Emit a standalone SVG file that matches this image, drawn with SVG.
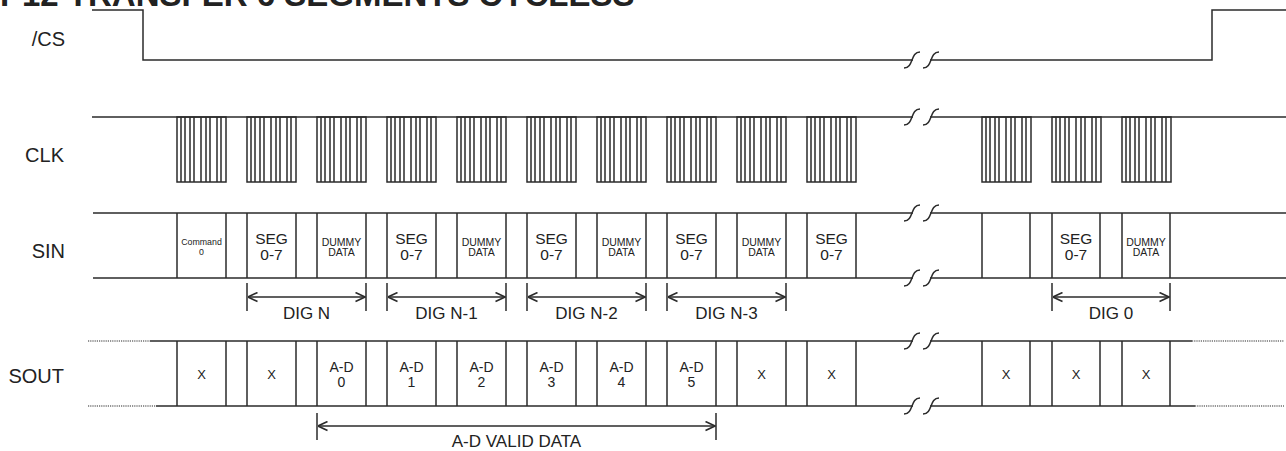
<svg xmlns="http://www.w3.org/2000/svg" xmlns:xlink="http://www.w3.org/1999/xlink" width="1286" height="451" viewBox="0 0 1286 451">
<style>
.ln{fill:none;stroke:#2b2b2b;stroke-width:1.5}
.dot{fill:none;stroke:#2b2b2b;stroke-width:1.2;stroke-dasharray:1.2 1}
.lbl{font-family:"Liberation Sans",Arial,sans-serif;font-size:20px;fill:#222}
.t{font-family:"Liberation Sans",Arial,sans-serif;fill:#222;text-anchor:middle}
.seg{font-size:15.5px}
.dum{font-size:10.5px}
.cmd{font-size:8.8px}
.x{font-size:13px}
.ad{font-size:14px}
.dim{font-size:17px}
.title{font-family:"Liberation Sans",Arial,sans-serif;font-size:33px;font-weight:bold;fill:#222}
</style>
<defs>
<marker id="ah" viewBox="0 0 11 11" refX="10.5" refY="5.5" markerWidth="11" markerHeight="11" markerUnits="userSpaceOnUse" orient="auto-start-reverse">
<path d="M1,1 L10.5,5.5 L1,10" fill="none" stroke="#2b2b2b" stroke-width="1.6"/>
</marker>
<g id="burst">
<rect x="0" y="0" width="49" height="65" class="ln"/>
<path class="ln" d="M4,0V65M8,0V65M13,0V65M17,0V65M24,0V65M29,0V65M33,0V65M40,0V65M44,0V65"/>
</g>
<path id="brk" class="ln" d="M-8,8 C2,8 -2,-8 8,-8 M11,8 C21,8 17,-8 27,-8"/>
</defs>
<rect width="1286" height="451" fill="#fff"/>
<text class="title" x="0" y="6">P12 TRANSFER 6 SEGMENTS CYCLESS</text>

<g id="labels">
<text class="lbl" x="65" y="46" text-anchor="end">/CS</text>
<text class="lbl" x="64" y="162" text-anchor="end">CLK</text>
<text class="lbl" x="65" y="258" text-anchor="end">SIN</text>
<text class="lbl" x="64" y="383" text-anchor="end">SOUT</text>
</g>

<g id="cs">
<path class="ln" d="M92,10H143V60H913M930,60H1212V10H1286"/>
<use xlink:href="#brk" x="912" y="60"/>
</g>

<g id="clk">
<path class="ln" d="M92,117H913M930,117H1286"/>
<use xlink:href="#brk" x="912" y="117"/>
<use xlink:href="#burst" x="177" y="117"/>
<use xlink:href="#burst" x="247" y="117"/>
<use xlink:href="#burst" x="317" y="117"/>
<use xlink:href="#burst" x="387" y="117"/>
<use xlink:href="#burst" x="457" y="117"/>
<use xlink:href="#burst" x="527" y="117"/>
<use xlink:href="#burst" x="597" y="117"/>
<use xlink:href="#burst" x="667" y="117"/>
<use xlink:href="#burst" x="737" y="117"/>
<use xlink:href="#burst" x="807" y="117"/>
<use xlink:href="#burst" x="982" y="117"/>
<use xlink:href="#burst" x="1052" y="117"/>
<use xlink:href="#burst" x="1122" y="117"/>
</g>

<g id="sin">
<path class="ln" d="M93,213H913M930,213H1286M93,278H913M930,278H1286"/>
<use xlink:href="#brk" x="912" y="213"/>
<use xlink:href="#brk" x="912" y="278"/>
<path class="ln" d="M177,213V278M226,213V278M247,213V278M296,213V278M317,213V278M366,213V278M387,213V278M436,213V278M457,213V278M506,213V278M527,213V278M576,213V278M597,213V278M646,213V278M667,213V278M716,213V278M737,213V278M786,213V278M807,213V278M856,213V278M982,213V278M1030,213V278M1052,213V278M1100,213V278M1122,213V278M1170,213V278"/>
<text class="t cmd" x="201.5" y="245">Command</text>
<text class="t cmd" x="201.5" y="255">0</text>
<g class="t seg">
<text x="271.5" y="244">SEG</text><text x="271.5" y="260">0-7</text>
<text x="411.5" y="244">SEG</text><text x="411.5" y="260">0-7</text>
<text x="551.5" y="244">SEG</text><text x="551.5" y="260">0-7</text>
<text x="691.5" y="244">SEG</text><text x="691.5" y="260">0-7</text>
<text x="831.5" y="244">SEG</text><text x="831.5" y="260">0-7</text>
<text x="1076" y="244">SEG</text><text x="1076" y="260">0-7</text>
</g>
<g class="t dum">
<text x="341.5" y="246">DUMMY</text><text x="341.5" y="256">DATA</text>
<text x="481.5" y="246">DUMMY</text><text x="481.5" y="256">DATA</text>
<text x="621.5" y="246">DUMMY</text><text x="621.5" y="256">DATA</text>
<text x="761.5" y="246">DUMMY</text><text x="761.5" y="256">DATA</text>
<text x="1146" y="246">DUMMY</text><text x="1146" y="256">DATA</text>
</g>
</g>

<g id="sout">
<path class="dot" d="M88,341H150M88,406H156M1192,341H1284M1195,406H1284"/>
<path class="ln" d="M150,341H913M930,341H1192M156,406H913M930,406H1195"/>
<use xlink:href="#brk" x="912" y="341"/>
<use xlink:href="#brk" x="912" y="406"/>
<path class="ln" d="M177,341V406M226,341V406M247,341V406M296,341V406M317,341V406M366,341V406M387,341V406M436,341V406M457,341V406M506,341V406M527,341V406M576,341V406M597,341V406M646,341V406M667,341V406M716,341V406M737,341V406M786,341V406M807,341V406M856,341V406M982,341V406M1030,341V406M1052,341V406M1100,341V406M1122,341V406M1170,341V406"/>
<g class="t x">
<text x="201.5" y="379">X</text>
<text x="271.5" y="379">X</text>
<text x="761.5" y="379">X</text>
<text x="831.5" y="379">X</text>
<text x="1006" y="379">X</text>
<text x="1076" y="379">X</text>
<text x="1146" y="379">X</text>
</g>
<g class="t ad">
<text x="341.5" y="372">A-D</text><text x="341.5" y="387">0</text>
<text x="411.5" y="372">A-D</text><text x="411.5" y="387">1</text>
<text x="481.5" y="372">A-D</text><text x="481.5" y="387">2</text>
<text x="551.5" y="372">A-D</text><text x="551.5" y="387">3</text>
<text x="621.5" y="372">A-D</text><text x="621.5" y="387">4</text>
<text x="691.5" y="372">A-D</text><text x="691.5" y="387">5</text>
</g>
</g>

<g id="dims">
<path class="ln" d="M247,283V311M366,283V311M387,283V311M506,283V311M527,283V311M646,283V311M667,283V311M786,283V311M1052,283V311M1170,283V311M317,413V440M716,413V440"/>
<path class="ln" marker-start="url(#ah)" marker-end="url(#ah)" d="M248,297H365"/>
<path class="ln" marker-start="url(#ah)" marker-end="url(#ah)" d="M388,297H505"/>
<path class="ln" marker-start="url(#ah)" marker-end="url(#ah)" d="M528,297H645"/>
<path class="ln" marker-start="url(#ah)" marker-end="url(#ah)" d="M668,297H785"/>
<path class="ln" marker-start="url(#ah)" marker-end="url(#ah)" d="M1053,297H1169"/>
<path class="ln" marker-start="url(#ah)" marker-end="url(#ah)" d="M318,426H715"/>
<g class="t dim">
<text x="306.5" y="319">DIG N</text>
<text x="446.5" y="319">DIG N-1</text>
<text x="586.5" y="319">DIG N-2</text>
<text x="726.5" y="319">DIG N-3</text>
<text x="1111" y="319">DIG 0</text>
<text x="516.5" y="447">A-D VALID DATA</text>
</g>
</g>
</svg>
